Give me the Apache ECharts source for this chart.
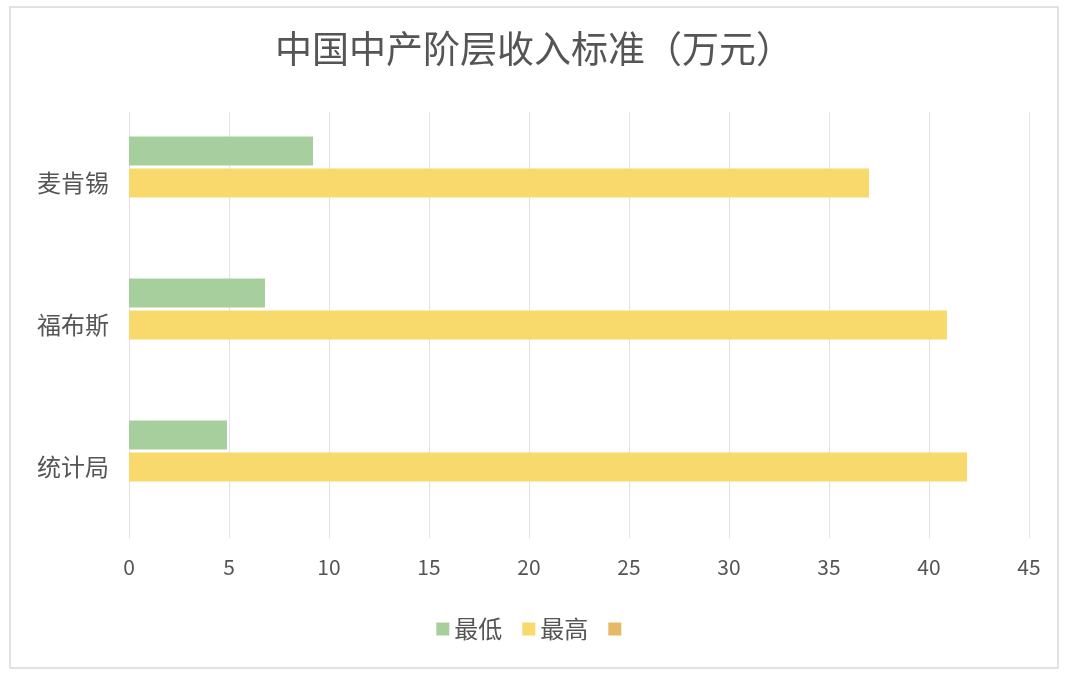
<!DOCTYPE html>
<html>
<head>
<meta charset="utf-8">
<script src="https://cdn.jsdelivr.net/npm/echarts@6/dist/echarts.min.js"></script>
<style>
html,body{margin:0;padding:0;background:#fff;}
#chart{width:1068px;height:680px;}
</style>
</head>
<body>
<div id="chart"></div>
<script>
// 数据
var categories = ['麦肯锡', '福布斯', '统计局'];
var lowValues = [9.2, 6.8, 4.9];
var highValues = [37, 40.9, 41.9];
var emptyValues = [];
var xTicks = [0, 5, 10, 15, 20, 25, 30, 35, 40, 45];

var font = '"Noto Sans CJK SC", "Noto Sans", sans-serif';

var chart = echarts.init(document.getElementById('chart'));
chart.setOption({
    textStyle: { fontFamily: font },
    graphic: [{
        type: 'rect',
        shape: { x: 10, y: 7, width: 1048, height: 661 },
        style: { fill: 'none', stroke: '#d9d9d9', lineWidth: 1.5 }
    }],
    title: {
        text: '中国中产阶层收入标准（万元）',
        left: 'center',
        top: 25,
        textStyle: { fontSize: 37, fontWeight: 'normal', color: '#555555', fontFamily: font }
    },
    legend: {
        data: ['最低', '最高', ' '],
        bottom: 34,
        left: 'center',
        icon: 'rect',
        itemWidth: 13,
        itemHeight: 13,
        itemGap: 20,
        textStyle: { fontSize: 24, color: '#555555', fontFamily: font }
    },
    grid: { left: 129, right: 39, top: 112, bottom: 142 },
    xAxis: {
        type: 'value',
        min: xTicks[0],
        max: xTicks[xTicks.length - 1],
        interval: 5,
        axisLine: { show: false },
        axisTick: { show: false },
        axisLabel: { fontSize: 21, color: '#555555', margin: 19, fontFamily: font },
        splitLine: { lineStyle: { color: '#e3e3e3' } }
    },
    yAxis: {
        type: 'category',
        data: categories,
        inverse: true,
        axisLine: { show: false },
        axisTick: { show: false },
        axisLabel: { fontSize: 24, color: '#555555', margin: 20, fontFamily: font }
    },
    series: [{
        name: '最低',
        type: 'bar',
        data: lowValues,
        barWidth: 29,
        barGap: '10%',
        itemStyle: { color: '#a6cf9d' }
    }, {
        name: '最高',
        type: 'bar',
        data: highValues,
        barWidth: 29,
        itemStyle: { color: '#f7d96c' }
    }, {
        name: ' ',
        type: 'bar',
        data: emptyValues,
        barWidth: 29,
        itemStyle: { color: '#e5b966' }
    }]
});
</script>
</body>
</html>
